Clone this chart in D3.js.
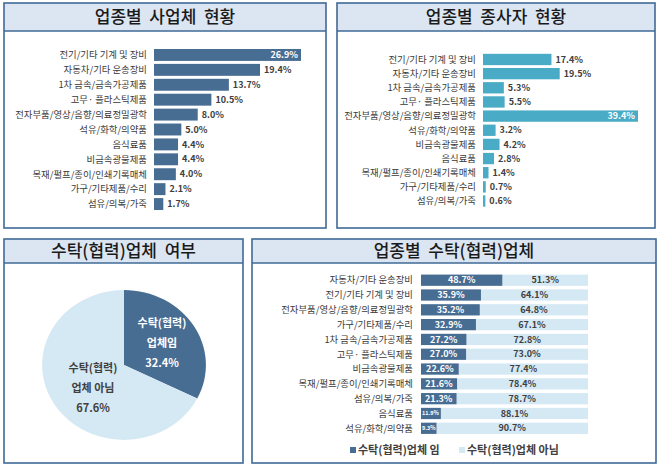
<!DOCTYPE html>
<html>
<head>
<meta charset="utf-8">
<title>업종별 현황</title>
<style>
  body { margin: 0; background: #fff; }
  svg { display: block; font-family: "Noto Sans CJK KR", "Noto Sans", sans-serif; }
  .cat { font-size: 9.4px; fill: #3a3a3a; text-anchor: end; }
  .val { font-size: 9px; font-weight: bold; }
  .title { font-size: 17px; font-weight: 500; fill: #1a1a1a; text-anchor: middle; }
</style>
</head>
<body>
<svg width="658" height="467"></svg>
<script src="https://d3js.org/d3.v7.min.js"></script>
<script>
// 업종별 사업체 현황
const bizCats = ["전기/기타 기계 및 장비", "자동차/기타 운송장비", "1차 금속/금속가공제품", "고무· 플라스틱제품",
  "전자부품/영상/음향/의료정밀광학", "석유/화학/의약품", "음식료품", "비금속광물제품",
  "목재/펄프/종이/인쇄기록매체", "가구/기타제품/수리", "섬유/의복/가죽"];
const bizVals = [26.9, 19.4, 13.7, 10.5, 8.0, 5.0, 4.4, 4.4, 4.0, 2.1, 1.7];

// 업종별 종사자 현황
const empCats = ["전기/기타 기계 및 장비", "자동차/기타 운송장비", "1차 금속/금속가공제품", "고무· 플라스틱제품",
  "전자부품/영상/음향/의료정밀광학", "석유/화학/의약품", "비금속광물제품", "음식료품",
  "목재/펄프/종이/인쇄기록매체", "가구/기타제품/수리", "섬유/의복/가죽"];
const empVals = [17.4, 19.5, 5.3, 5.5, 39.4, 3.2, 4.2, 2.8, 1.4, 0.7, 0.6];

// 수탁(협력)업체 여부
const pieLabels = [["수탁(협력)", "업체임"], ["수탁(협력)", "업체 아님"]];
const pieVals = [32.4, 67.6];

// 업종별 수탁(협력)업체
const subCats = ["자동차/기타 운송장비", "전기/기타 기계 및 장비", "전자부품/영상/음향/의료정밀광학", "가구/기타제품/수리",
  "1차 금속/금속가공제품", "고무· 플라스틱제품", "비금속광물제품", "목재/펄프/종이/인쇄기록매체",
  "섬유/의복/가죽", "음식료품", "석유/화학/의약품"];
const subYes = [48.7, 35.9, 35.2, 32.9, 27.2, 27.0, 22.6, 21.6, 21.3, 11.9, 9.3];
const subNo = [51.3, 64.1, 64.8, 67.1, 72.8, 73.0, 77.4, 78.4, 78.7, 88.1, 90.7];
const legendNames = ["수탁(협력)업체 임", "수탁(협력)업체 아님"];

const dark = "#486d93", teal = "#4aabc6", pale = "#d5e9f4";
const svg = d3.select("svg");

// panel frames
function panel(x0, y0, x1, y1, hb, title) {
  svg.append("rect").attr("x", x0).attr("y", y0).attr("width", x1 - x0).attr("height", hb - y0)
    .attr("fill", "#dce6f2");
  svg.append("rect").attr("x", x0).attr("y", y0).attr("width", x1 - x0).attr("height", y1 - y0)
    .attr("fill", "none").attr("stroke", "#3f6a96").attr("stroke-width", 1.6);
  svg.append("line").attr("x1", x0).attr("x2", x1).attr("y1", hb).attr("y2", hb)
    .attr("stroke", "#3f6a96").attr("stroke-width", 1.6);
  svg.append("text").attr("class", "title").attr("x", (x0 + x1) / 2).attr("y", (y0 + hb) / 2)
    .attr("dy", "0.36em").attr("xml:space", "preserve").style("white-space", "pre").text(title);
}
panel(4, 3, 326, 228, 31, "업종별  사업체  현황");
panel(337, 3, 655, 228, 31, "업종별  종사자  현황");
panel(4, 239, 243, 463, 263, "수탁(협력)업체  여부");
panel(252, 239, 656, 463, 263, "업종별  수탁(협력)업체");

// horizontal bar chart
function hbar(cats, vals, color, xr, yr, inside) {
  const x = d3.scaleLinear().domain([0, d3.max(vals)]).range(xr);
  const y = d3.scaleBand().domain(cats).range(yr).paddingInner(0.2).paddingOuter(0.1);
  const g = svg.append("g");
  g.selectAll(".cat").data(cats).join("text").attr("class", "cat")
    .attr("x", xr[0] - 7).attr("y", d => y(d) + y.bandwidth() / 2).attr("dy", "0.35em").text(d => d);
  g.selectAll("rect").data(vals).join("rect")
    .attr("x", x(0)).attr("y", (d, i) => y(cats[i]))
    .attr("width", d => x(d) - x(0)).attr("height", y.bandwidth()).attr("fill", color);
  g.selectAll(".val").data(vals).join("text").attr("class", "val")
    .attr("x", (d, i) => i === inside ? x(d) - 3 : x(d) + 4)
    .attr("text-anchor", (d, i) => i === inside ? "end" : "start")
    .attr("fill", (d, i) => i === inside ? "#fff" : "#404040")
    .attr("y", (d, i) => y(cats[i]) + y.bandwidth() / 2).attr("dy", "0.35em")
    .text(d => d.toFixed(1) + "%");
}
hbar(bizCats, bizVals, dark, [154, 301], [47.5, 211.5], 0);
hbar(empCats, empVals, teal, [483, 638], [52.4, 208.1], 4);

// pie
const pie = d3.pie().sort(null).value(d => d)(pieVals);
const arc = d3.arc().innerRadius(0).outerRadius(78);
const pg = svg.append("g").attr("transform", "translate(124,365) scale(1.05,0.96)");
pg.selectAll("path").data(pie).join("path").attr("d", arc)
  .attr("fill", (d, i) => i === 0 ? dark : pale);
const pieLabelPos = [[162, 323], [93, 368]];
pieLabels.forEach((lines, i) => {
  const t = svg.append("text").attr("text-anchor", "middle").attr("font-size", 11).attr("font-weight", "bold")
    .attr("fill", i === 0 ? "#fff" : "#404040");
  lines.concat([pieVals[i].toFixed(1) + "%"]).forEach((s, k) => {
    t.append("tspan").attr("x", pieLabelPos[i][0]).attr("y", pieLabelPos[i][1] + k * 20).attr("dy", "0.35em").text(s);
  });
});

// stacked 100% bars
const sx = d3.scaleLinear().domain([0, 100]).range([421, 588]);
const sy = d3.scaleBand().domain(subCats).range([273.1, 435.4]).paddingInner(0.24).paddingOuter(0.1);
const sg = svg.append("g");
sg.selectAll(".cat").data(subCats).join("text").attr("class", "cat")
  .attr("x", 413).attr("y", d => sy(d) + sy.bandwidth() / 2).attr("dy", "0.35em").text(d => d);
sg.selectAll(".no").data(subNo).join("rect").attr("class", "no")
  .attr("x", (d, i) => sx(subYes[i])).attr("y", (d, i) => sy(subCats[i]))
  .attr("width", (d, i) => sx(subYes[i] + d) - sx(subYes[i])).attr("height", sy.bandwidth()).attr("fill", pale);
sg.selectAll(".yes").data(subYes).join("rect").attr("class", "yes")
  .attr("x", sx(0)).attr("y", (d, i) => sy(subCats[i]))
  .attr("width", d => sx(d) - sx(0)).attr("height", sy.bandwidth()).attr("fill", dark);
sg.selectAll(".yv").data(subYes).join("text").attr("class", "val")
  .attr("x", d => d < 15 ? sx(0) + 1 : (sx(0) + sx(d)) / 2)
  .attr("text-anchor", d => d < 15 ? "start" : "middle")
  .style("font-size", d => d < 15 ? "5.5px" : "9px").attr("fill", "#fff")
  .attr("y", (d, i) => sy(subCats[i]) + sy.bandwidth() / 2).attr("dy", "0.35em")
  .text(d => d.toFixed(1) + "%");
sg.selectAll(".nv").data(subNo).join("text").attr("class", "val")
  .attr("x", (d, i) => (sx(subYes[i]) + sx(100)) / 2).attr("text-anchor", "middle").attr("fill", "#404040")
  .attr("y", (d, i) => sy(subCats[i]) + sy.bandwidth() / 2).attr("dy", "0.35em")
  .text(d => d.toFixed(1) + "%");

// legend
const lg = svg.append("g");
[[350, dark], [459, pale]].forEach(([lx, c], i) => {
  lg.append("rect").attr("x", lx).attr("y", 447).attr("width", 6).attr("height", 6).attr("fill", c);
  lg.append("text").attr("x", lx + 8).attr("y", 450).attr("dy", "0.35em")
    .attr("font-size", 11).attr("font-weight", "bold").attr("fill", "#404040").text(legendNames[i]);
});
</script>
</body>
</html>
